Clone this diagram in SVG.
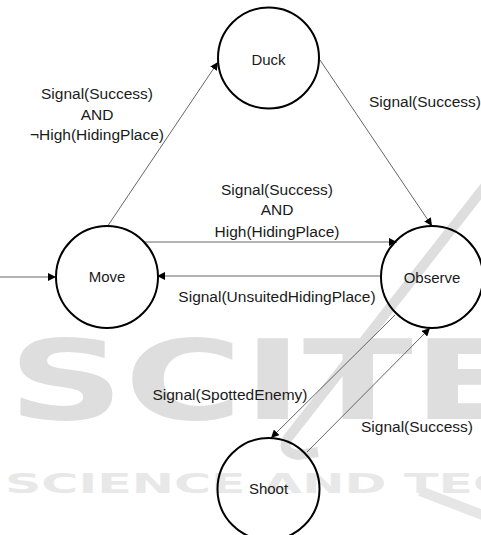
<svg xmlns="http://www.w3.org/2000/svg" width="481" height="535" viewBox="0 0 481 535">
<style>
.wm{fill:#dedede;font-family:"DejaVu Sans",sans-serif;font-weight:bold}
.wmb{fill:none;stroke:#dedede;stroke-width:10;stroke-linecap:butt}
.node circle{fill:none;stroke:#000;stroke-width:2}
.node text{font-family:"Liberation Sans",Arial,sans-serif;font-size:15px;fill:#1a1a1a;text-anchor:middle}
.edge{stroke:#555;stroke-width:0.9;fill:none;marker-end:url(#ah)}
.lbl{font-family:"Liberation Sans",Arial,sans-serif;font-size:15.5px;fill:#1a1a1a;text-anchor:middle}
</style>
<defs>
<marker id="ah" viewBox="0 0 10 10" refX="10" refY="5" markerWidth="8" markerHeight="8" markerUnits="userSpaceOnUse" orient="auto">
<path d="M0,0 L10,5 L0,10 z" fill="#000"/>
</marker>
</defs>
<rect width="481" height="535" fill="#fff"/>
<g id="watermark">
<text class="wm" x="8" y="419" font-size="110" textLength="515" lengthAdjust="spacingAndGlyphs">SCITE</text>
<text class="wm" x="5" y="493" font-size="27" textLength="505" lengthAdjust="spacingAndGlyphs" style="fill:#e8e8e8">SCIENCE AND TEC</text>
<path class="wmb" d="M490,180 L288,438 Q280,452 298,455 L318,452"/>
<path class="wmb" d="M420,491 L485,516" style="stroke:#e6e6e6"/>
</g>
<g id="connectors">
<line class="edge" x1="0" y1="277" x2="56" y2="277"/>
<line class="edge" x1="107" y1="227" x2="218" y2="62"/>
<line class="edge" x1="320" y1="60" x2="432" y2="226"/>
<line class="edge" x1="143" y1="242" x2="397" y2="242"/>
<line class="edge" x1="382" y1="276" x2="157" y2="276"/>
<line class="edge" x1="395" y1="315" x2="271" y2="438"/>
<line class="edge" x1="307" y1="452" x2="430" y2="328"/>
</g>
<g id="labels">
<text class="lbl" x="97" y="99">Signal(Success)</text>
<text class="lbl" x="97" y="120">AND</text>
<text class="lbl" x="97" y="140">¬High(HidingPlace)</text>
<text class="lbl" x="425" y="107">Signal(Success)</text>
<text class="lbl" x="277" y="195">Signal(Success)</text>
<text class="lbl" x="277" y="215">AND</text>
<text class="lbl" x="277" y="237">High(HidingPlace)</text>
<text class="lbl" x="277" y="302">Signal(UnsuitedHidingPlace)</text>
<text class="lbl" x="230" y="400">Signal(SpottedEnemy)</text>
<text class="lbl" x="417" y="432">Signal(Success)</text>
</g>
<g id="duck" class="node"><circle cx="268.5" cy="58" r="50.5"/><text x="268.5" y="65">Duck</text></g>
<g id="move" class="node"><circle cx="107" cy="277" r="51"/><text x="107" y="282">Move</text></g>
<g id="observe" class="node"><circle cx="432" cy="277" r="51"/><text x="432" y="283">Observe</text></g>
<g id="shoot" class="node"><circle cx="268.5" cy="489" r="51"/><text x="268.5" y="494">Shoot</text></g>
</svg>
